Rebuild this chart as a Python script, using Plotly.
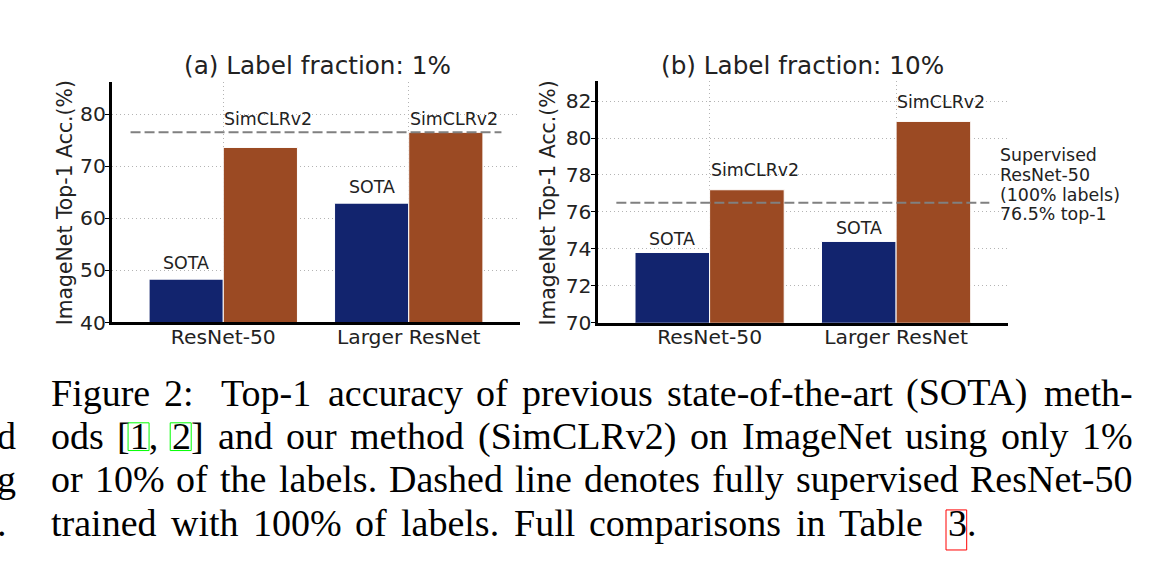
import plotly.graph_objects as go

# ---------------- data ----------------
categories = ["ResNet-50", "Larger ResNet"]
series_names = ["SOTA", "SimCLRv2"]
sota_1pct = [48.3, 62.9]
simclr_1pct = [73.6, 76.5]
sota_10pct = [73.8, 74.4]
simclr_10pct = [77.2, 80.9]
supervised_top1 = 76.5
yticks_1pct = [40, 50, 60, 70, 80]
yticks_10pct = [70, 72, 74, 76, 78, 80, 82]
panel_titles = ["(a) Label fraction: 1%", "(b) Label fraction: 10%"]
y_title = "ImageNet Top-1 Acc.(%)"
side_note = ["Supervised", "ResNet-50", "(100% labels)", "76.5% top-1"]
caption_lines = [
    "Figure 2:  Top-1 accuracy of previous state-of-the-art (SOTA) meth-",
    "ods [1, 2] and our method (SimCLRv2) on ImageNet using only 1%",
    "or 10% of the labels. Dashed line denotes fully supervised ResNet-50",
    "trained with 100% of labels. Full comparisons in Table",
]
caption_ref_token = "3."
left_column_tail = ["d", "g", "."]

# ---------------- style ----------------
W, H = 1154, 577
H_EFF = 564.3   # vertical extent the page is actually drawn into
NAVY = "#12246e"
BROWN = "#9b4a23"
TXT = "#222222"
SANS = "DejaVu Sans"
SERIF = "Liberation Serif"
GRID = "#b4b4b4"


def px(x):
    return x / W


def py(y):
    return 1 - y / H_EFF


fig = go.Figure()

panels = [
    dict(xa="x", ya="y", sota=sota_1pct, sim=simclr_1pct, xd=(112, 520), yd=(82, 322),
         yr=(40, 86.15), ticks=yticks_1pct, title=panel_titles[0], tx=317, ytx=65,
         sota_shift=16.5, sim_shift=13, sim_floor=True),
    dict(xa="x2", ya="y2", sota=sota_10pct, sim=simclr_10pct, xd=(597.7, 1008), yd=(80.7, 322.3),
         yr=(70, 83.1), ticks=yticks_10pct, title=panel_titles[1], tx=802.5, ytx=548.3,
         sota_shift=13.5, sim_shift=19.5, sim_floor=False),
]

annotations = []
shapes = []
xpos = list(range(len(categories)))

for i, p in enumerate(panels):
    fig.add_trace(go.Bar(x=xpos, y=p["sota"], width=0.4, offset=-0.4, name=series_names[0],
                         marker=dict(color=NAVY, line=dict(color="white", width=1)),
                         xaxis=p["xa"], yaxis=p["ya"], hoverinfo="skip"))
    fig.add_trace(go.Bar(x=xpos, y=p["sim"], width=0.4, offset=0.0, name=series_names[1],
                         marker=dict(color=BROWN, line=dict(color="white", width=1)),
                         xaxis=p["xa"], yaxis=p["ya"], hoverinfo="skip"))
    suffix = "" if i == 0 else "2"
    axis_common = dict(showline=True, linewidth=3.2, linecolor="black", showgrid=True,
                       gridcolor=GRID, griddash="1px,3px", gridwidth=1, zeroline=False,
                       tickfont=dict(family=SANS, size=20.3, color=TXT))
    fig.update_layout(**{
        "xaxis" + suffix: dict(domain=[px(p["xd"][0]), px(p["xd"][1])], range=[-0.6, 1.6],
                               tickvals=xpos, ticktext=categories, ticks="",
                               anchor="y" + suffix, ticklabelstandoff=-6, **axis_common),
        "yaxis" + suffix: dict(domain=[py(p["yd"][1]), py(p["yd"][0])], range=list(p["yr"]),
                               tickvals=p["ticks"], ticks="outside", ticklen=4, tickwidth=1.2,
                               tickcolor="black", anchor="x" + suffix, ticklabelstandoff=-5,
                               **axis_common),
    })
    # supervised dashed line
    shapes.append(dict(type="line", xref=p["xa"], yref=p["ya"], x0=-0.5, x1=1.5,
                       y0=supervised_top1, y1=supervised_top1,
                       line=dict(color="#808080", width=2, dash="10px,4px")))
    # bar labels
    for j in xpos:
        annotations.append(dict(xref=p["xa"], yref=p["ya"], x=j - 0.2, y=p["sota"][j],
                                text=series_names[0], showarrow=False, xanchor="center",
                                yanchor="middle", yshift=p["sota_shift"], borderpad=0,
                                font=dict(family=SANS, size=17.4, color=TXT)))
        ybase = max(p["sim"][j], supervised_top1) if p["sim_floor"] else p["sim"][j]
        annotations.append(dict(xref=p["xa"], yref=p["ya"], x=j, y=ybase,
                                text=series_names[1], showarrow=False, xanchor="left",
                                yanchor="middle", yshift=p["sim_shift"], borderpad=0,
                                font=dict(family=SANS, size=17.4, color=TXT)))
    # panel title
    annotations.append(dict(xref="paper", yref="paper", x=px(p["tx"]), y=py(65),
                            text=p["title"], showarrow=False, xanchor="center", yanchor="middle",
                            borderpad=0, font=dict(family=SANS, size=24.7, color=TXT)))
    # y title
    annotations.append(dict(xref="paper", yref="paper", x=px(p["ytx"]), y=py(203),
                            text=y_title, showarrow=False, textangle=-90, xanchor="center",
                            yanchor="middle", borderpad=0,
                            font=dict(family=SANS, size=20.4, color=TXT)))

# side note in panel b
for k, line in enumerate(side_note):
    annotations.append(dict(xref="paper", yref="paper", x=px(999), y=py(155 + 19.7 * k),
                            text=line, showarrow=False, xanchor="left", yanchor="middle",
                            borderpad=0, font=dict(family=SANS, size=17.4, color=TXT)))

# ---------------- caption (justified, word by word) ----------------
TIMES = {" ": .25, "a": .444, "b": .5, "c": .444, "d": .5, "e": .444, "f": .333, "g": .5,
         "h": .5, "i": .278, "j": .278, "k": .5, "l": .278, "m": .778, "n": .5, "o": .5,
         "p": .5, "q": .5, "r": .333, "s": .389, "t": .278, "u": .5, "v": .5, "w": .722,
         "x": .5, "y": .5, "z": .444, "A": .722, "B": .667, "C": .667, "D": .722, "E": .611,
         "F": .556, "G": .722, "H": .722, "I": .333, "L": .611, "M": .889, "N": .722,
         "O": .722, "R": .667, "S": .556, "T": .611, ".": .25, ",": .25, ":": .278,
         "-": .333, "(": .333, ")": .333, "[": .333, "]": .333, "%": .833}
CAP = 38.0


def tw(s):
    return sum(TIMES.get(c, .5) for c in s) * CAP


def justify(text, x0, x1):
    toks = text.split(" ")
    widths = [tw(t) for t in toks]
    gap = (x1 - x0 - sum(widths)) / (len(toks) - 1)
    xs, x = [], x0
    for t, w in zip(toks, widths):
        xs.append(x)
        x += w + gap
    return toks, xs


baselines = [405, 448.3, 491.7, 535]
right_edges = [1132, 1132, 1132, 925]


def cap_ann(text, x, base, anchor="left"):
    return dict(xref="paper", yref="paper", x=px(x), y=py(base - 0.3375 * CAP), text=text,
                showarrow=False, xanchor=anchor, yanchor="middle", borderpad=0,
                font=dict(family=SERIF, size=CAP, color="black"))


for li, line in enumerate(caption_lines):
    toks, xs = justify(line, 50, right_edges[li])
    for t, x in zip(toks, xs):
        if t:
            annotations.append(cap_ann(t, x, baselines[li]))
        if t in ("[1,", "2]"):
            gx = x + (tw("[") if t.startswith("[") else 0)
            shapes.append(dict(type="rect", xref="paper", yref="paper",
                               x0=px(gx - 1), x1=px(gx + tw("1") + 1),
                               y0=py(baselines[li] + 1.7), y1=py(baselines[li] - 26),
                               line=dict(color="#00ff00", width=1)))

annotations.append(cap_ann(caption_ref_token, 947.3, baselines[3]))
shapes.append(dict(type="rect", xref="paper", yref="paper", x0=px(946), x1=px(966.7),
                   y0=py(549.3), y1=py(509.3), line=dict(color="#ff0000", width=1)))

for k, t in enumerate(left_column_tail):
    annotations.append(cap_ann(t, 17 if t != "." else 8, baselines[k + 1], anchor="right"))

fig.update_layout(width=W, height=H, margin=dict(l=0, r=0, t=0, b=0),
                  paper_bgcolor="white", plot_bgcolor="white", showlegend=False,
                  barmode="overlay", annotations=annotations, shapes=shapes)

css_fix = (
    "var h=document.documentElement,b=document.body;"
    "[h,b].forEach(function(e){e.style.margin='0';e.style.padding='0';"
    "e.style.overflow='hidden';e.style.width='1154px';e.style.height='577px';});"
)
fig.write_html("out.html", include_plotlyjs=True, config={"displayModeBar": False},
               post_script=css_fix)
